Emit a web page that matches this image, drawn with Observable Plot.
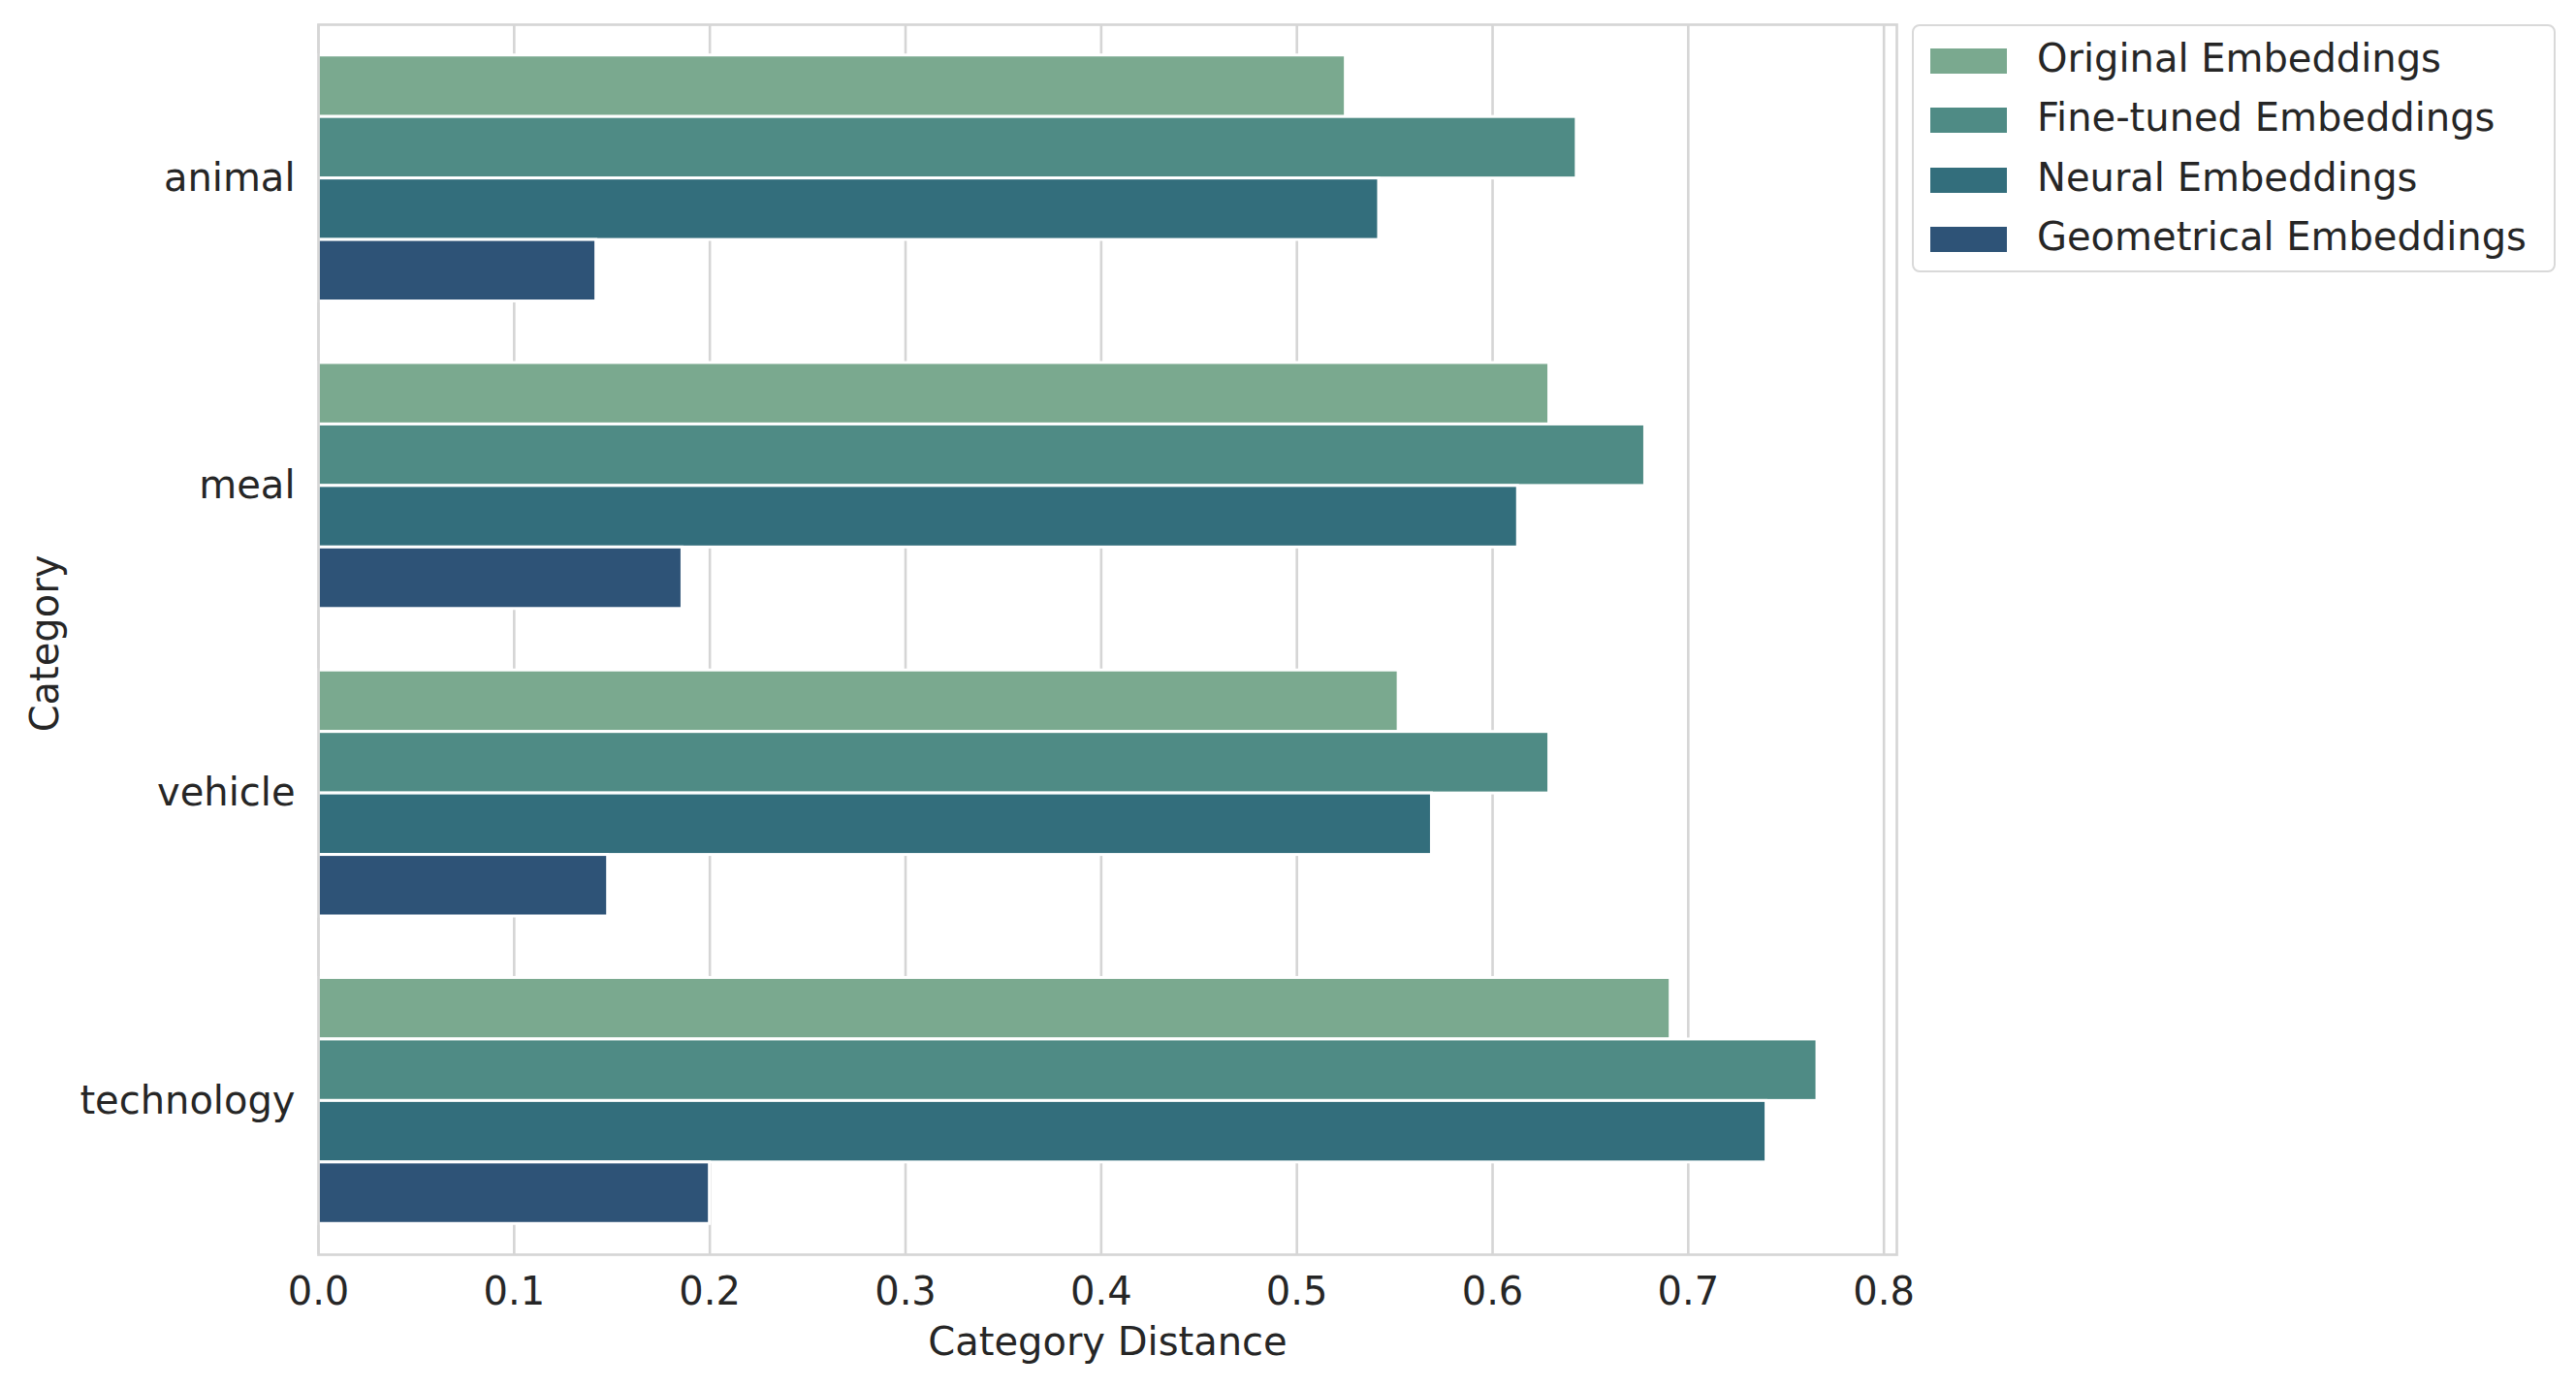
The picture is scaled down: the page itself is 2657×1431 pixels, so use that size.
<!DOCTYPE html>
<html>
<head>
<meta charset="utf-8">
<script src="https://cdn.jsdelivr.net/npm/d3@7"></script>
<script src="https://cdn.jsdelivr.net/npm/@observablehq/plot@0.6"></script>
<style>
  html, body { margin: 0; padding: 0; background: #fff; }
  #wrap { position: relative; width: 2657px; height: 1431px; font-family: "DejaVu Sans", sans-serif; color: #262626; }
  #legend { position: absolute; left: 1972px; top: 25px; width: 664px; height: 256px; box-sizing: border-box;
            border: 2.5px solid #d9d9d9; border-radius: 8px; background: #fff; }
  .sw { position: absolute; left: 17px; width: 79px; height: 26px; }
  .lab { position: absolute; left: 127px; font-size: 40px; white-space: nowrap; line-height: 40px; }
</style>
</head>
<body>
<div id="wrap">
  <div id="chart"></div>
  <div id="legend"></div>
</div>
<script>
const categories = ["animal", "meal", "vehicle", "technology"];
const series = ["Original Embeddings", "Fine-tuned Embeddings", "Neural Embeddings", "Geometrical Embeddings"];
const colors = ["#7aa98f", "#4f8b85", "#336e7c", "#2e5377"];
const originalValues = [0.525, 0.629, 0.552, 0.691];
const fineTunedValues = [0.643, 0.678, 0.629, 0.766];
const neuralValues = [0.542, 0.613, 0.569, 0.740];
const geometricalValues = [0.142, 0.186, 0.148, 0.200];
const xTicks = [0, 0.1, 0.2, 0.3, 0.4, 0.5, 0.6, 0.7, 0.8];

const seriesValues = [originalValues, fineTunedValues, neuralValues, geometricalValues];
const data = [];
categories.forEach((c, i) => {
  series.forEach((s, j) => {
    data.push({category: c, ci: i, series: s, si: j, value: seriesValues[j][i]});
  });
});

const W = 2657, H = 1431;
const mL = 328, mR = 701, mT = 25, mB = 137;
const xMax = d3.max(data, d => d.value) * 1.053;
const groupWidth = 0.8, barW = groupWidth / series.length;

const plot = Plot.plot({
  width: W,
  height: H,
  marginLeft: mL,
  marginRight: mR,
  marginTop: mT,
  marginBottom: mB,
  style: {fontFamily: "DejaVu Sans, sans-serif", fontSize: "40px", color: "#262626", background: "#fff"},
  x: {domain: [0, xMax]},
  y: {domain: [-0.5, categories.length - 0.5], reverse: true},
  color: {domain: series, range: colors},
  marks: [
    Plot.gridX(xTicks, {stroke: "#d5d5d5", strokeWidth: 2.6, strokeOpacity: 1}),
    Plot.rect(data, {
      x1: 0,
      x2: "value",
      y1: d => d.ci - groupWidth / 2 + d.si * barW,
      y2: d => d.ci - groupWidth / 2 + (d.si + 1) * barW,
      fill: "series",
      stroke: "white",
      strokeWidth: 3
    }),
    Plot.frame({stroke: "#d6d6d6", strokeWidth: 2.7}),
    Plot.axisX(xTicks, {tickSize: 0, tickPadding: 23, tickFormat: d3.format(".1f"), label: null, fill: "#262626", fontSize: 40}),
    Plot.axisY(d3.range(categories.length), {tickSize: 0, tickPadding: 24, tickFormat: i => categories[i], label: null, fill: "#262626", fontSize: 40}),
    Plot.text(["Category Distance"], {frameAnchor: "bottom", dy: 91, lineAnchor: "middle", textAnchor: "middle", text: d => d, fill: "#262626", fontSize: 40}),
    Plot.text(["Category"], {frameAnchor: "left", dx: -281, dy: 4, rotate: -90, lineAnchor: "middle", textAnchor: "middle", text: d => d, fill: "#262626", fontSize: 40})
  ]
});
document.getElementById("chart").appendChild(plot);

const legend = document.getElementById("legend");
series.forEach((s, j) => {
  const top = 22 + j * 61.3;
  const sw = document.createElement("div");
  sw.className = "sw";
  sw.style.top = (top + 1) + "px";
  sw.style.background = colors[j];
  legend.appendChild(sw);
  const lab = document.createElement("div");
  lab.className = "lab";
  lab.style.top = (top - 9) + "px";
  lab.textContent = s;
  legend.appendChild(lab);
});
</script>
</body>
</html>
